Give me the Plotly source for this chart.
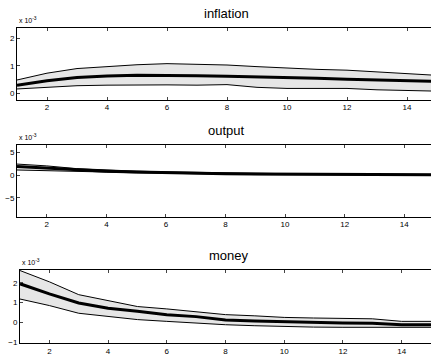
import plotly.graph_objects as go

steps = list(range(1, 16))

infl_mid = [0.29, 0.45, 0.57, 0.63, 0.65, 0.65, 0.64, 0.62, 0.60, 0.57, 0.54, 0.51, 0.48, 0.45, 0.43]
infl_up = [0.48, 0.73, 0.90, 0.97, 1.04, 1.08, 1.05, 1.03, 0.97, 0.91, 0.87, 0.84, 0.78, 0.71, 0.65]
infl_lo = [0.15, 0.21, 0.27, 0.29, 0.30, 0.30, 0.29, 0.31, 0.21, 0.17, 0.17, 0.17, 0.12, 0.08, 0.07]

out_mid = [1.85, 1.50, 1.15, 0.85, 0.65, 0.50, 0.38, 0.30, 0.22, 0.17, 0.13, 0.10, 0.08, 0.06, 0.05]
out_up = [2.40, 2.00, 1.40, 1.05, 0.85, 0.68, 0.55, 0.45, 0.36, 0.30, 0.25, 0.21, 0.18, 0.16, 0.14]
out_lo = [1.10, 0.90, 0.85, 0.65, 0.48, 0.35, 0.24, 0.16, 0.10, 0.06, 0.02, 0.00, -0.02, -0.03, -0.04]

mon_mid = [1.95, 1.44, 0.98, 0.71, 0.56, 0.39, 0.29, 0.12, 0.07, 0.03, -0.01, -0.03, -0.05, -0.12, -0.12]
mon_up = [2.62, 2.05, 1.40, 1.10, 0.80, 0.68, 0.54, 0.39, 0.33, 0.25, 0.22, 0.19, 0.18, 0.05, 0.05]
mon_lo = [1.18, 0.85, 0.46, 0.30, 0.14, 0.05, -0.05, -0.12, -0.17, -0.22, -0.24, -0.25, -0.25, -0.25, -0.25]

titles = ["inflation", "output", "money"]
mids = [infl_mid, out_mid, mon_mid]
ups = [infl_up, out_up, mon_up]
los = [infl_lo, out_lo, mon_lo]
y_ranges = [[-0.25, 2.4], [-9.1, 6.5], [-1.05, 2.65]]
y_ticks = [[0, 1, 2], [-5, 0, 5], [-1, 0, 1, 2]]

W, H = 431, 358
# pixel layout: (left, top, bottom) and x-range end at the right edge of the window
boxes = [(17, 28, 101, 14.8), (17, 147, 219, 14.9), (20, 273, 347, 15.0)]

fig = go.Figure()
FONT = "Liberation Sans, Arial, sans-serif"

for i in range(3):
    xa = "x" if i == 0 else f"x{i+1}"
    ya = "y" if i == 0 else f"y{i+1}"
    fig.add_trace(go.Scatter(x=steps, y=ups[i], mode="lines", line=dict(color="black", width=1),
                             xaxis=xa, yaxis=ya, showlegend=False, hoverinfo="skip"))
    fig.add_trace(go.Scatter(x=steps, y=los[i], mode="lines", line=dict(color="black", width=1),
                             fill="tonexty", fillcolor="#e6e6e6",
                             xaxis=xa, yaxis=ya, showlegend=False, hoverinfo="skip"))
    fig.add_trace(go.Scatter(x=steps, y=mids[i], mode="lines", line=dict(color="black", width=3),
                             xaxis=xa, yaxis=ya, showlegend=False, hoverinfo="skip"))
    l, t, b, xend = boxes[i]
    xkey = "xaxis" if i == 0 else f"xaxis{i+1}"
    ykey = "yaxis" if i == 0 else f"yaxis{i+1}"
    fig.layout[xkey] = dict(domain=[l / W, 1], range=[1, xend], anchor=ya,
                            tickvals=[2, 4, 6, 8, 10, 12, 14], ticks="inside", ticklen=3,
                            showline=True, linecolor="black", linewidth=1, mirror="ticks",
                            showgrid=False, zeroline=False, tickfont=dict(size=8, family=FONT, color="black"))
    fig.layout[ykey] = dict(domain=[1 - b / H, 1 - t / H], range=y_ranges[i], anchor=xa,
                            tickvals=y_ticks[i], ticks="inside", ticklen=3,
                            showline=True, linecolor="black", linewidth=1,
                            showgrid=False, zeroline=False, tickfont=dict(size=8, family=FONT, color="black"))
    cx = (l + 437) / 2 / W
    fig.add_annotation(text=titles[i], x=cx, y=1 - (t - 5) / H, xref="paper", yref="paper",
                       xanchor="center", yanchor="bottom", showarrow=False,
                       font=dict(size=13, family=FONT, color="black"))
    fig.add_annotation(text="x 10<sup>-3</sup>", x=l / W, y=1 - (t - 2) / H, xref="paper", yref="paper",
                       xanchor="left", yanchor="bottom", showarrow=False,
                       font=dict(size=7, family=FONT, color="black"))

fig.update_layout(width=W, height=H, margin=dict(l=0, r=0, t=0, b=0),
                  plot_bgcolor="white", paper_bgcolor="white")
fig.write_html("out.html", config={"displayModeBar": False},
               post_script="document.body.style.margin='0';document.body.style.overflow='hidden';")
